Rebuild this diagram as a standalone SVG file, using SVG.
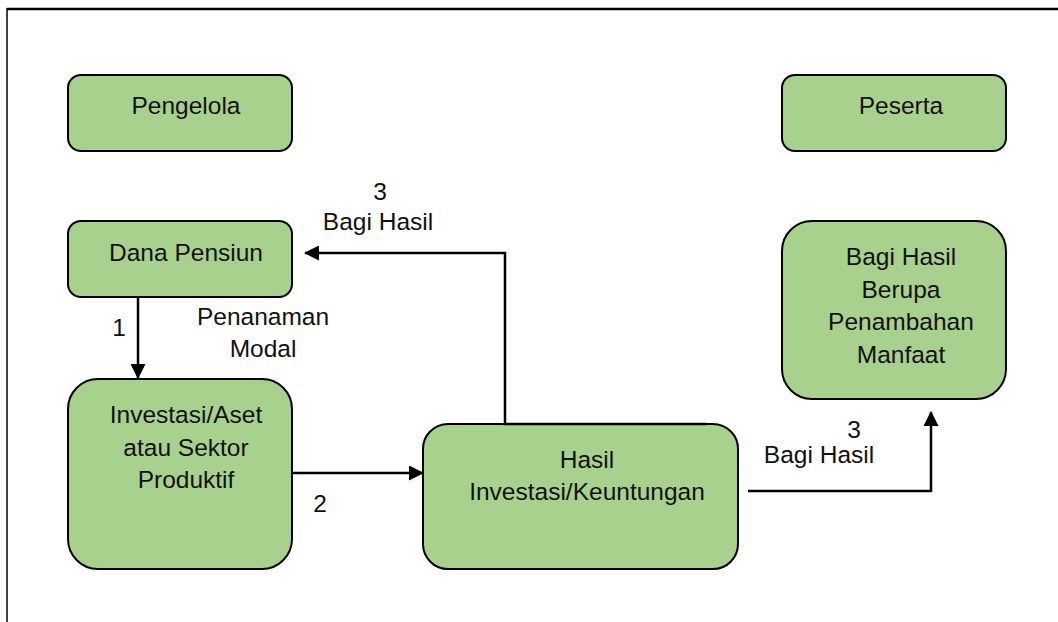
<svg xmlns="http://www.w3.org/2000/svg" width="1058" height="622" viewBox="0 0 1058 622">
<defs>
<style>
.box{fill:#A9D18E;stroke:#000;stroke-width:2}
.t{font-family:"Liberation Sans",Arial,sans-serif;font-size:24.5px;fill:#111;text-anchor:middle}
.c{fill:none;stroke:#000;stroke-width:2.5}
</style>
<marker id="ah" viewBox="0 0 14 14" refX="13" refY="7" markerWidth="15" markerHeight="15" markerUnits="userSpaceOnUse" orient="auto">
<path d="M0,0 L14,7 L0,14 Z" fill="#000"/>
</marker>
</defs>
<rect width="1058" height="622" fill="#fff"/>
<g id="frame">
<line x1="7" y1="9" x2="1058" y2="9" stroke="#000" stroke-width="2.5"/>
<line x1="7" y1="8" x2="7" y2="622" stroke="#000" stroke-width="1.5"/>
</g>
<g id="pengelola">
<rect class="box" x="68" y="75" width="224" height="76" rx="13"/>
<text class="t" x="186" y="114">Pengelola</text>
</g>
<g id="peserta">
<rect class="box" x="782" y="75" width="224" height="76" rx="13"/>
<text class="t" x="901" y="114">Peserta</text>
</g>
<g id="dana-pensiun">
<rect class="box" x="68" y="221" width="224" height="76" rx="13"/>
<text class="t" x="186" y="261">Dana Pensiun</text>
</g>
<g id="investasi">
<rect class="box" x="68" y="379" width="224" height="190" rx="30"/>
<text class="t" x="186" y="423">Investasi/Aset</text>
<text class="t" x="186" y="456">atau Sektor</text>
<text class="t" x="186" y="488">Produktif</text>
</g>
<g id="hasil">
<rect class="box" x="423" y="424" width="315" height="145" rx="25"/>
<text class="t" x="587" y="468">Hasil</text>
<text class="t" x="587" y="500">Investasi/Keuntungan</text>
</g>
<g id="bagi-hasil-manfaat">
<rect class="box" x="782" y="221" width="224" height="178" rx="30"/>
<text class="t" x="901" y="265">Bagi Hasil</text>
<text class="t" x="901" y="298">Berupa</text>
<text class="t" x="901" y="330">Penambahan</text>
<text class="t" x="901" y="363">Manfaat</text>
</g>
<g id="connectors">
<path class="c" d="M138,297 V378" marker-end="url(#ah)"/>
<path class="c" d="M292,473 H423" marker-end="url(#ah)"/>
<path class="c" d="M706,424 H505 V253 H305" marker-end="url(#ah)"/>
<path class="c" d="M748,491 H931 V412" marker-end="url(#ah)"/>
</g>
<g id="labels">
<text class="t" x="119" y="336">1</text>
<text class="t" x="263" y="325">Penanaman</text>
<text class="t" x="263" y="357">Modal</text>
<text class="t" x="320" y="512">2</text>
<text class="t" x="380" y="200">3</text>
<text class="t" x="378" y="230">Bagi Hasil</text>
<text class="t" x="854" y="438">3</text>
<text class="t" x="819" y="463">Bagi Hasil</text>
</g>
</svg>
